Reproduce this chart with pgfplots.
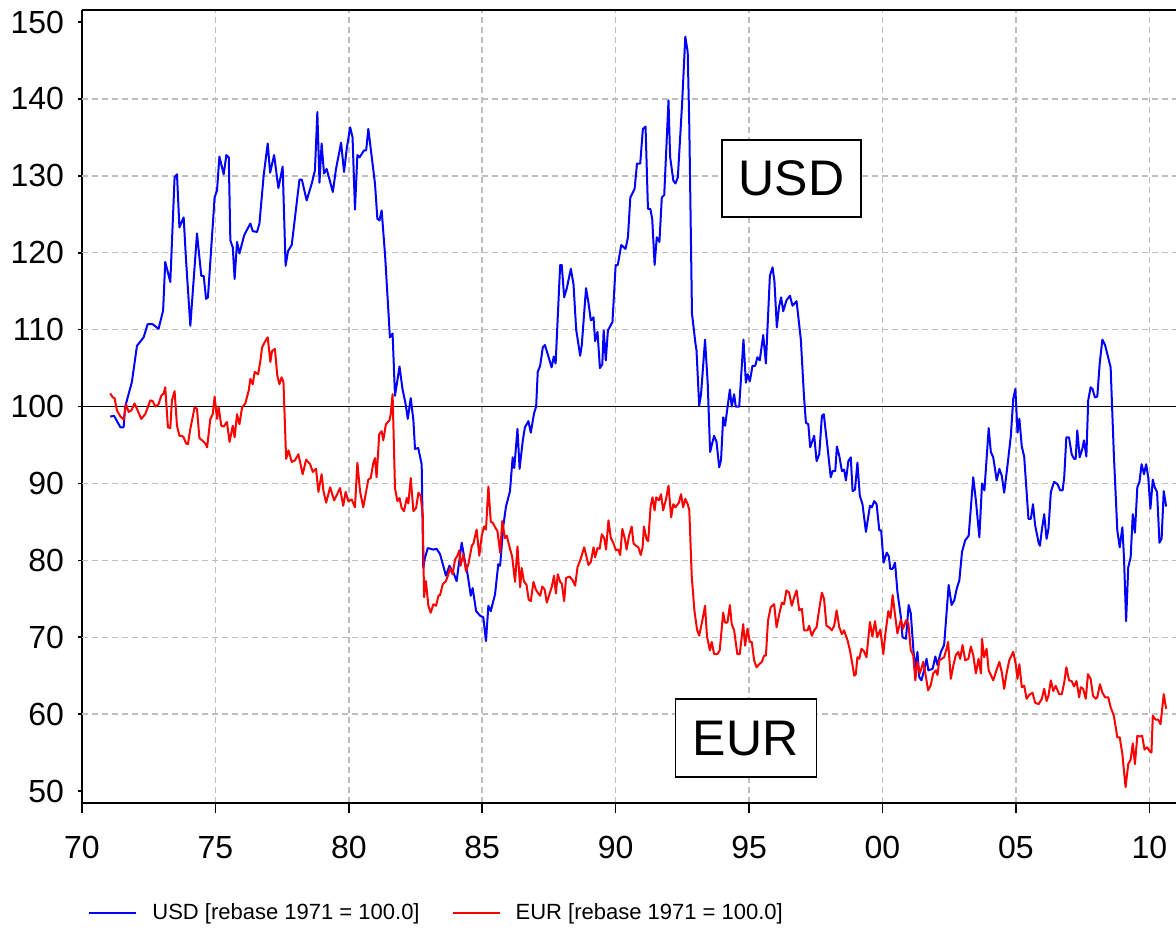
\documentclass[border=0pt]{standalone}
\usepackage{fontspec}
\setmainfont{Liberation Sans}
\usepackage{pgfplots}
\pgfplotsset{compat=1.18}
\definecolor{gridgray}{RGB}{190,190,190}
\begin{document}
\begin{tikzpicture}
\begin{axis}[
  name=ax,
  scale only axis,
  width=547pt, height=396.5pt,
  xmin=1970, xmax=2011, ymin=48.45, ymax=151.56,
  axis x line*=box, axis y line*=left,
  axis line style={line width=0.9pt, black},
  xtick={1970,1975,...,2010},
  xticklabels={70,75,80,85,90,95,00,05,10},
  ytick={50,60,...,150},
  minor ytick={50,60,...,150},
  xtick pos=bottom, ytick pos=left,
  tick align=outside,
  major tick length=5pt,
  minor tick length=2pt,
  tick style={line width=0.8pt, black},
  every major y tick/.append style={draw=none},
  xmajorgrids=true, ymajorgrids=false,
  extra y ticks={60,70,...,140}, extra y tick labels={},
  extra y tick style={ymajorgrids=true, major tick length=0pt},
  major grid style={gridgray, line width=0.75pt, dash pattern=on 3pt off 2pt},
  /pgf/number format/assume math mode=true,
  ticklabel style={font=\fontsize{16}{19}\selectfont},
  xticklabel style={yshift=-8pt},
  yticklabel style={xshift=-0.5pt},
  legend columns=2,
  legend style={at={(0.0055,-0.1387)}, anchor=west, draw=none, fill=none,
    font=\fontsize{11}{13}\selectfont, inner sep=0pt,
    /tikz/every odd column/.append style={column sep=5.5pt},
    /tikz/every even column/.append style={column sep=14pt}},
  legend cell align=left,
  legend image code/.code={\draw[#1] (0pt,0pt) -- (23.5pt,0pt);},
]
\addplot[black, line width=0.5pt, forget plot] coordinates {(1970,100) (2011,100)};
\addplot[blue, line width=1pt, line join=round] coordinates {
(1971.06,98.7) (1971.2,98.8) (1971.44,97.3) (1971.56,97.3) (1971.62,100) (1971.87,103.2) (1972.06,107.9) (1972.31,109) (1972.46,110.7) (1972.65,110.7) (1972.87,110.1) (1973.04,112.5) (1973.12,118.8) (1973.31,116.2) (1973.47,129.8) (1973.56,130.2) (1973.65,123.3) (1973.81,124.6) (1973.9,119) (1974.06,110.5) (1974.31,122.5) (1974.47,117) (1974.56,117) (1974.65,114) (1974.72,114.2) (1974.97,127.2) (1975.06,128.1) (1975.15,132.5) (1975.31,130.2) (1975.41,132.7) (1975.5,132.4) (1975.56,121.6) (1975.65,120.7) (1975.72,116.6) (1975.81,121.4) (1975.9,119.9) (1976.08,122.3) (1976.31,123.8) (1976.4,122.8) (1976.56,122.7) (1976.65,123.8) (1976.81,130.1) (1976.96,134.2) (1977.05,130.4) (1977.2,132.7) (1977.36,128.4) (1977.52,131.2) (1977.63,118.3) (1977.72,120.2) (1977.86,121) (1978.15,129.5) (1978.24,129.5) (1978.42,126.8) (1978.61,129) (1978.73,130.7) (1978.82,138.3) (1978.9,129.1) (1978.98,134.2) (1979.07,130.3) (1979.17,130.9) (1979.4,127.9) (1979.52,130.9) (1979.71,134.3) (1979.82,130.5) (1979.92,133.5) (1980.05,136.3) (1980.14,135) (1980.23,125.6) (1980.32,132.7) (1980.4,132.4) (1980.57,133.3) (1980.65,133.3) (1980.73,136.1) (1980.98,129) (1981.07,124.4) (1981.15,124.2) (1981.23,125.5) (1981.36,119.6) (1981.54,109) (1981.64,109.5) (1981.73,101.4) (1981.9,105.2) (1982.01,102.3) (1982.13,100.3) (1982.21,98.4) (1982.32,101.1) (1982.42,98.2) (1982.48,94.5) (1982.6,94.6) (1982.73,92.5) (1982.79,79.0) (1982.85,80.3) (1982.96,81.6) (1983.17,81.4) (1983.29,81.5) (1983.42,80.8) (1983.64,78.0) (1983.77,79.3) (1983.92,78.4) (1984.04,77.3) (1984.23,82.3) (1984.36,79.7) (1984.45,78.2) (1984.57,75.4) (1984.64,76.4) (1984.77,73.4) (1984.92,72.8) (1985.04,72.6) (1985.14,69.5) (1985.23,74.1) (1985.32,73.4) (1985.48,75.6) (1985.6,79.5) (1985.67,79.3) (1985.79,84.5) (1985.89,87) (1986.04,89) (1986.14,93.4) (1986.2,92) (1986.32,97.1) (1986.4,91.9) (1986.52,95.6) (1986.6,97.3) (1986.73,98.1) (1986.82,96.6) (1986.94,99.1) (1987.02,100) (1987.08,104.5) (1987.17,105.3) (1987.27,107.7) (1987.35,108) (1987.48,106.5) (1987.6,105.1) (1987.68,106.5) (1987.75,105.6) (1987.92,118.4) (1987.98,118.4) (1988.07,114.2) (1988.17,115.4) (1988.32,117.9) (1988.42,115.9) (1988.52,110) (1988.67,106.6) (1988.73,108) (1988.89,115.4) (1988.98,113.5) (1989.07,111.2) (1989.17,111.6) (1989.23,108.5) (1989.32,109.7) (1989.41,105) (1989.5,105.5) (1989.55,109.9) (1989.63,106) (1989.71,109.9) (1989.88,111) (1990.0,118.4) (1990.08,118.4) (1990.21,121) (1990.37,120.5) (1990.46,122) (1990.55,127.2) (1990.71,128.3) (1990.8,131.6) (1990.92,131.6) (1991.02,136.1) (1991.12,136.4) (1991.21,125.7) (1991.3,125.7) (1991.37,124.4) (1991.46,118.4) (1991.54,122) (1991.64,121.4) (1991.73,127.2) (1991.82,127.5) (1991.89,132.9) (1991.98,139.8) (1992.04,132.5) (1992.16,129.4) (1992.24,129) (1992.33,129.8) (1992.49,139.4) (1992.61,148.1) (1992.7,146.1) (1992.76,136.4) (1992.86,112.1) (1992.99,108.2) (1993.03,107.3) (1993.13,100.1) (1993.2,101.6) (1993.35,108.7) (1993.45,103) (1993.54,94.1) (1993.69,96.2) (1993.78,95.4) (1993.88,92.1) (1993.95,93.1) (1994.03,98.6) (1994.1,97.5) (1994.28,102.2) (1994.35,100) (1994.44,101.6) (1994.5,100) (1994.63,100) (1994.79,108.7) (1994.88,103.1) (1994.95,104.2) (1995.03,103.3) (1995.13,105.3) (1995.23,105.3) (1995.31,106.4) (1995.4,106) (1995.53,109.3) (1995.63,105.6) (1995.78,117) (1995.88,118.1) (1995.95,116.3) (1996.04,110.3) (1996.12,112.9) (1996.2,114.2) (1996.28,112.4) (1996.4,113.8) (1996.53,114.4) (1996.63,113.1) (1996.78,113.7) (1996.94,108.7) (1997.06,101.2) (1997.13,97.9) (1997.22,97.7) (1997.29,94.7) (1997.44,96.2) (1997.53,92.9) (1997.63,93.8) (1997.73,98.8) (1997.8,99) (1997.94,94.7) (1998.06,90.8) (1998.13,91.6) (1998.23,91.6) (1998.29,94.8) (1998.38,93.6) (1998.48,91.6) (1998.56,91.8) (1998.63,90.4) (1998.72,92.9) (1998.81,93.4) (1998.88,89) (1998.97,89.2) (1999.06,92.7) (1999.15,88.4) (1999.25,87.3) (1999.38,83.7) (1999.53,87.1) (1999.6,86.9) (1999.69,87.7) (1999.78,87.3) (1999.88,83.9) (1999.95,83.9) (2000.04,79.7) (2000.16,81) (2000.24,80.5) (2000.29,78.9) (2000.38,78.9) (2000.47,79.7) (2000.56,75.9) (2000.69,72.6) (2000.75,70) (2000.88,69.8) (2000.98,74.2) (2001.06,73.1) (2001.16,68.3) (2001.22,65.9) (2001.31,68.1) (2001.38,64.8) (2001.46,64.4) (2001.56,65.7) (2001.65,67.2) (2001.72,65.7) (2001.88,65.9) (2001.98,67.5) (2002.06,66.4) (2002.19,68.1) (2002.31,69) (2002.48,76.8) (2002.59,74.2) (2002.69,74.8) (2002.78,76.3) (2002.88,77.4) (2002.98,81.1) (2003.1,82.6) (2003.23,83.2) (2003.4,90.8) (2003.5,87.8) (2003.63,83) (2003.73,90) (2003.82,89.1) (2003.98,97.2) (2004.06,94.1) (2004.15,93.4) (2004.28,90.4) (2004.38,91.9) (2004.47,91) (2004.56,88.8) (2004.69,92.5) (2004.81,96.2) (2004.9,101) (2004.98,102.3) (2005.06,96.6) (2005.13,98.4) (2005.22,94.8) (2005.31,93.5) (2005.47,85.4) (2005.56,85.4) (2005.64,87.3) (2005.72,84.6) (2005.85,82.3) (2005.9,81.9) (2005.97,83.9) (2006.06,86) (2006.15,82.8) (2006.22,84.1) (2006.31,88.9) (2006.43,90.2) (2006.56,89.9) (2006.66,89.1) (2006.75,89.1) (2006.81,90.8) (2006.89,96) (2006.99,96) (2007.09,93.8) (2007.18,93.2) (2007.24,93.2) (2007.3,96.9) (2007.39,93.4) (2007.49,94.5) (2007.55,95.6) (2007.64,93.5) (2007.71,100.8) (2007.8,102.5) (2007.87,102.3) (2007.96,101.2) (2008.05,101.3) (2008.14,105.6) (2008.24,108.7) (2008.34,108) (2008.42,106.9) (2008.55,105.1) (2008.67,93.8) (2008.8,83.9) (2008.89,81.7) (2008.99,84.3) (2009.05,80.4) (2009.13,72.1) (2009.21,79.1) (2009.3,80.4) (2009.38,86) (2009.46,83.6) (2009.55,89.5) (2009.63,90.2) (2009.71,92.5) (2009.8,91.2) (2009.88,92.5) (2009.96,90.8) (2010.04,86.7) (2010.13,90.5) (2010.2,89.5) (2010.29,88.9) (2010.38,82.3) (2010.46,82.8) (2010.54,89) (2010.63,87)
};
\addlegendentry{USD [rebase 1971 = 100.0]}
\addplot[red, line width=1pt, line join=round] coordinates {
(1971.06,101.7) (1971.15,101.2) (1971.22,101.1) (1971.31,99.5) (1971.44,98.7) (1971.56,98.3) (1971.65,100.3) (1971.75,99.3) (1971.85,99.5) (1971.97,100.4) (1972.06,99.7) (1972.22,98.4) (1972.37,99) (1972.56,100.8) (1972.65,100.7) (1972.75,100) (1972.87,100.3) (1972.97,101.4) (1973.06,101.7) (1973.12,102.5) (1973.22,97.3) (1973.31,97.2) (1973.37,100.8) (1973.47,102) (1973.56,97.5) (1973.65,96.2) (1973.75,96.2) (1973.81,96) (1973.9,95.2) (1973.97,95.1) (1974.06,97.1) (1974.22,99.9) (1974.31,99.7) (1974.4,95.9) (1974.5,95.6) (1974.62,95.2) (1974.69,94.7) (1974.81,98.4) (1974.9,99) (1974.97,101.3) (1975.06,98.4) (1975.12,99.9) (1975.22,97.5) (1975.31,97.4) (1975.43,98) (1975.53,95.4) (1975.65,97.5) (1975.72,96) (1975.81,99) (1975.9,97.7) (1976.0,99.9) (1976.12,100.4) (1976.25,102.1) (1976.31,103.6) (1976.4,102.9) (1976.47,104.5) (1976.6,104.2) (1976.68,105.8) (1976.75,107.7) (1976.85,108.4) (1976.96,109) (1977.06,105.8) (1977.12,107.2) (1977.23,107.5) (1977.32,104) (1977.4,102.9) (1977.48,103.8) (1977.55,103.2) (1977.65,93.2) (1977.74,94.3) (1977.86,92.8) (1977.98,93) (1978.11,93.8) (1978.27,91.2) (1978.4,93.1) (1978.55,92.5) (1978.65,91.5) (1978.77,91.9) (1978.86,88.9) (1978.98,91.2) (1979.05,89) (1979.15,87.5) (1979.3,89.5) (1979.45,87.8) (1979.55,88.5) (1979.67,89.4) (1979.79,87.1) (1979.88,88.9) (1979.98,87.7) (1980.11,87.9) (1980.23,86.9) (1980.32,92.7) (1980.42,89) (1980.54,86.9) (1980.73,90.5) (1980.82,90.7) (1980.92,92.7) (1980.98,93.3) (1981.04,90.8) (1981.14,96.4) (1981.23,96.8) (1981.29,95.6) (1981.39,97.7) (1981.52,98.2) (1981.57,99) (1981.64,101.6) (1981.73,89.4) (1981.82,87.7) (1981.9,88.1) (1981.98,86.8) (1982.07,86.4) (1982.17,88.1) (1982.23,87.4) (1982.32,90.7) (1982.42,86.4) (1982.52,86.8) (1982.61,88.8) (1982.69,88.4) (1982.77,86) (1982.82,75.2) (1982.89,77.3) (1982.98,74.1) (1983.07,73.2) (1983.17,74.3) (1983.27,74.1) (1983.36,75.4) (1983.42,75.5) (1983.52,76.9) (1983.64,77.3) (1983.73,78.2) (1983.79,79) (1983.89,78.2) (1983.98,80.1) (1984.07,80.6) (1984.14,81.3) (1984.19,79.3) (1984.29,80.8) (1984.39,78.6) (1984.48,79.5) (1984.61,81.9) (1984.67,82.2) (1984.79,84) (1984.89,80.6) (1984.98,83.2) (1985.07,84.4) (1985.14,84) (1985.23,89.6) (1985.32,85) (1985.39,84.9) (1985.5,84.2) (1985.57,83.8) (1985.67,81) (1985.75,85.1) (1985.85,82.9) (1985.92,83.2) (1986.04,81.5) (1986.12,80.5) (1986.23,77.2) (1986.32,81.8) (1986.42,76.5) (1986.48,79) (1986.56,77.3) (1986.66,76.8) (1986.74,74.9) (1986.82,74.7) (1986.92,77.2) (1987.01,76.2) (1987.1,75.7) (1987.17,75.4) (1987.25,76.6) (1987.34,76.2) (1987.42,74.5) (1987.51,75.5) (1987.6,76.5) (1987.69,78) (1987.76,75.7) (1987.83,78.2) (1987.92,77.2) (1987.98,77) (1988.07,74.7) (1988.14,77.7) (1988.27,77.9) (1988.39,77.4) (1988.48,76.7) (1988.57,79.1) (1988.69,80.2) (1988.82,81.7) (1988.89,80.7) (1988.98,79.4) (1989.07,79.8) (1989.17,81.7) (1989.23,80.4) (1989.32,81.6) (1989.4,81.5) (1989.48,83.4) (1989.57,82.9) (1989.64,81.4) (1989.73,85.2) (1989.82,82.9) (1989.92,82.2) (1990.01,81.3) (1990.1,81.4) (1990.17,80.7) (1990.25,84.1) (1990.35,82.7) (1990.41,81.4) (1990.5,83.2) (1990.6,84.4) (1990.67,82.2) (1990.76,81.9) (1990.85,81.7) (1990.94,80.7) (1991.01,81.7) (1991.06,84.4) (1991.16,82.7) (1991.22,82.5) (1991.31,87) (1991.38,88.2) (1991.46,86.5) (1991.52,88.2) (1991.62,87.8) (1991.7,88.6) (1991.78,86.5) (1991.89,88) (1991.98,89.7) (1992.08,85.6) (1992.16,87.3) (1992.24,86.9) (1992.37,87.5) (1992.45,88.6) (1992.53,86.9) (1992.61,88) (1992.7,87.3) (1992.76,86.5) (1992.85,78) (1992.95,73.5) (1993.05,71) (1993.13,70.2) (1993.25,72.2) (1993.35,74.1) (1993.42,70.2) (1993.53,68.3) (1993.6,69.4) (1993.69,67.8) (1993.81,67.8) (1993.9,68.3) (1994.03,73.2) (1994.1,71.9) (1994.19,71.9) (1994.28,74.2) (1994.35,71.7) (1994.44,70.9) (1994.56,67.8) (1994.65,67.8) (1994.78,71.7) (1994.85,68.9) (1994.94,71.1) (1995.03,69.4) (1995.1,69.4) (1995.19,67) (1995.28,66.1) (1995.38,66.5) (1995.48,66.8) (1995.56,67.6) (1995.63,67.6) (1995.71,72.2) (1995.81,73.9) (1995.94,74.3) (1996.03,71.3) (1996.13,73) (1996.23,74.5) (1996.31,74.3) (1996.4,76.1) (1996.5,75.8) (1996.6,74.1) (1996.69,75.2) (1996.78,76.1) (1996.88,73.5) (1996.98,73.7) (1997.06,70.9) (1997.19,70.9) (1997.25,71.5) (1997.35,70.2) (1997.44,70.9) (1997.53,71.3) (1997.63,73.7) (1997.73,75.8) (1997.81,75) (1997.9,71.5) (1998.0,71.3) (1998.1,70.9) (1998.19,71.5) (1998.28,73.5) (1998.38,71.3) (1998.48,70.4) (1998.56,70.9) (1998.69,69.6) (1998.78,68.3) (1998.88,66.3) (1998.94,65) (1999.0,65.2) (1999.06,67.4) (1999.13,67.2) (1999.21,68.5) (1999.3,68.2) (1999.4,67.4) (1999.53,72) (1999.62,70.1) (1999.72,72.1) (1999.8,70) (1999.92,71) (2000.03,67.8) (2000.11,70.5) (2000.22,73.4) (2000.3,72.5) (2000.38,75.5) (2000.47,72.9) (2000.56,70.5) (2000.69,72.3) (2000.77,71.1) (2000.88,72.2) (2000.97,71.8) (2001.06,68.3) (2001.15,67.7) (2001.23,64.4) (2001.31,66.8) (2001.4,65.3) (2001.53,66.8) (2001.62,65) (2001.71,63.1) (2001.81,63.8) (2001.9,65.3) (2002.0,65.7) (2002.06,65.1) (2002.13,67) (2002.22,67.2) (2002.31,67.4) (2002.4,68.5) (2002.46,69.4) (2002.56,64.6) (2002.66,66.4) (2002.75,67.7) (2002.84,68.1) (2002.91,67.2) (2003.0,69) (2003.1,67) (2003.22,67.2) (2003.31,68.8) (2003.4,67.7) (2003.5,65.3) (2003.6,67.2) (2003.69,65.3) (2003.73,69.8) (2003.81,67.4) (2003.9,68.5) (2003.98,65.7) (2004.06,65.1) (2004.15,64.4) (2004.25,65.5) (2004.38,66.8) (2004.48,65.3) (2004.56,63.3) (2004.65,65.3) (2004.75,67) (2004.9,68.1) (2005.0,66.4) (2005.06,64.6) (2005.13,66.5) (2005.22,63.5) (2005.31,63.7) (2005.4,62) (2005.5,62.5) (2005.62,62.8) (2005.72,61.5) (2005.85,61.3) (2005.97,62) (2006.06,63.3) (2006.15,61.7) (2006.22,62.4) (2006.31,64.4) (2006.4,63) (2006.49,63.7) (2006.62,62.6) (2006.72,62.6) (2006.81,64.1) (2006.89,66.1) (2006.99,64.4) (2007.09,64.3) (2007.18,63.6) (2007.27,64.3) (2007.37,62.2) (2007.43,63.5) (2007.52,63.3) (2007.62,62) (2007.7,65.2) (2007.8,64.6) (2007.89,62.4) (2007.99,62) (2008.05,62.2) (2008.15,63.9) (2008.24,62.8) (2008.34,62.2) (2008.46,62.2) (2008.55,60.9) (2008.67,59.8) (2008.8,57) (2008.89,57) (2008.99,54.8) (2009.11,50.5) (2009.21,53.5) (2009.3,54.1) (2009.38,56.2) (2009.46,53.5) (2009.55,57.2) (2009.63,57.1) (2009.73,57.2) (2009.82,55.4) (2009.92,55.7) (2010.01,55.2) (2010.08,55) (2010.13,59.8) (2010.23,59.3) (2010.33,59.3) (2010.42,58.7) (2010.54,62.6) (2010.63,60.7)
};
\addlegendentry{EUR [rebase 1971 = 100.0]}
\node[draw=black, fill=white, line width=0.6pt, minimum width=69.5pt, minimum height=38.5pt, inner sep=0pt, font=\fontsize{25}{30}\selectfont] at (axis cs:1996.59,129.65) {USD};
\node[draw=black, fill=white, line width=0.6pt, minimum width=70.5pt, minimum height=39pt, inner sep=0pt, font=\fontsize{25}{30}\selectfont] at (axis cs:1994.87,56.89) {EUR};
\end{axis}
\pgfresetboundingbox
\useasboundingbox ([xshift=-41pt,yshift=-62pt]ax.south west) rectangle ([yshift=5pt]ax.north east);
\end{tikzpicture}
\end{document}
